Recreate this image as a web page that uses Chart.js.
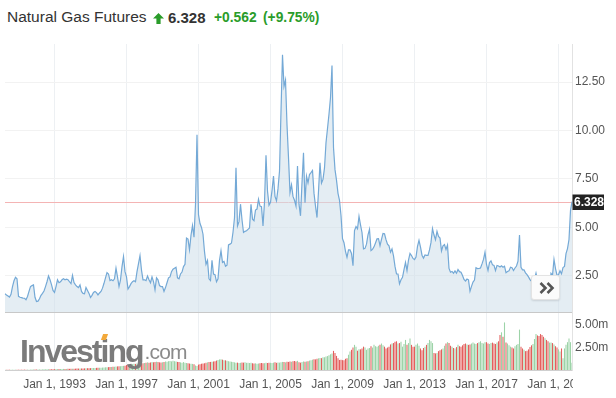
<!DOCTYPE html>
<html>
<head>
<meta charset="utf-8">
<script src="https://cdn.jsdelivr.net/npm/chart.js@4/dist/chart.umd.min.js"></script>
<style>
html,body{margin:0;padding:0;background:#fff;}
body{width:616px;height:398px;position:relative;overflow:hidden;font-family:"Liberation Sans",Arial,sans-serif;}
.abs{position:absolute;white-space:nowrap;line-height:1;}
#name{left:7px;top:9.2px;font-size:15.5px;color:#333;}
#last{left:168px;top:10px;font-size:15px;font-weight:bold;color:#333;}
#chg{left:214px;top:10.6px;font-size:13.8px;font-weight:bold;color:#2a9c2a;}
#pct{left:263px;top:10.6px;font-size:13.8px;font-weight:bold;color:#2a9c2a;}
#arrow{position:absolute;left:153px;top:12.5px;}
#cPrice{position:absolute;left:0;top:40px;}
#cVol{position:absolute;left:0;top:312px;}
#logo{position:absolute;left:20px;top:333px;font-size:32px;font-weight:bold;color:#7b7b7b;letter-spacing:-2px;line-height:normal;white-space:nowrap;}
#logo span{font-size:21px;font-weight:normal;color:#8a8a8a;letter-spacing:-0.8px;margin-left:2px;position:relative;top:-3px;}
#dot{position:absolute;left:102px;top:334px;width:5px;height:6px;background:#f3a93a;transform:skewX(-20deg);}
#more{position:absolute;left:531px;top:275px;width:29px;height:25px;background:#fbfbfb;border:1px solid #e3e3e3;border-radius:3px;box-shadow:0 1px 2px rgba(0,0,0,0.12);box-sizing:border-box;}
#more svg{position:absolute;left:7px;top:6px;}
</style>
</head>
<body>
<div class="abs" id="name">Natural Gas Futures</div>
<svg id="arrow" width="11" height="11" viewBox="0 0 11 11"><path d="M5.5 0 L11 5.5 L7.6 5.5 L7.6 11 L3.4 11 L3.4 5.5 L0 5.5 Z" fill="#2a9c2a"/></svg>
<div class="abs" id="last"></div>
<div class="abs" id="chg"></div>
<div class="abs" id="pct"></div>
<canvas id="cPrice" width="616" height="273"></canvas>
<canvas id="cVol" width="616" height="86"></canvas>
<div id="logo">Investing<span>.com</span></div>
<div id="dot"></div>
<div id="more"><svg width="16" height="12" viewBox="0 0 16 12"><path d="M1.5 1 L6.5 6 L1.5 11 M8.5 1 L13.5 6 L8.5 11" stroke="#555" stroke-width="2.6" fill="none"/></svg></div>
<script>
// ---- data ----
const startYear = 1990;
const startMonth = 4; // April 1990, monthly
const monthNames = ['Jan','Feb','Mar','Apr','May','Jun','Jul','Aug','Sep','Oct','Nov','Dec'];
const priceTicks = [2.5, 5, 7.5, 10, 12.5];
const volumeTicks = [2.5, 5];   // millions
const firstTickYear = 1993;
const tickEveryYears = 4;
const lastChange = 0.562;
const lastChangePct = 9.75;

const prices = [
  1.58,1.52,1.47,1.41,1.55,1.95,2.25,2.43,2.35,
  1.45,1.4,1.38,1.36,1.35,1.27,1.44,1.7,1.95,2.0,2.04,1.4,
  1.18,1.2,1.32,1.5,1.6,1.72,1.95,2.2,2.5,2.3,2.05,1.75,
  1.65,1.95,2.3,2.15,2.2,2.3,2.35,2.3,2.33,2.3,2.2,2.1,
  2.53,2.16,2.04,1.95,1.9,2.04,1.7,1.6,1.58,1.9,1.75,1.6,
  1.39,1.5,1.65,1.7,1.64,1.52,1.62,1.7,1.87,2.12,2.4,2.67,
  2.6,2.26,2.3,2.25,2.35,2.9,2.45,1.95,2.3,2.98,3.5,2.72,
  2.45,1.83,1.95,2.1,2.2,2.25,2.2,2.72,3.13,3.54,2.8,2.3,
  2.3,2.26,2.5,2.3,2.15,2.45,2.2,1.78,2.4,2.3,2.0,1.95,
  1.95,1.7,1.9,2.15,2.4,2.45,2.72,2.85,2.9,2.95,2.4,2.35,
  2.6,2.7,2.98,3.1,4.45,4.4,3.85,4.6,5.1,4.5,6.2,9.78,
  5.66,5.2,5.0,4.65,3.75,3.1,3.3,2.35,2.26,3.3,2.6,2.57,
  2.2,2.35,3.3,3.8,3.2,3.25,3.0,3.05,4.1,4.14,4.2,4.75,
  5.5,8.08,5.08,5.3,6.2,5.4,4.74,4.8,4.83,4.9,4.97,6.19,
  5.43,5.35,5.9,5.95,6.45,6.1,6.07,5.08,6.3,8.72,6.88,6.15,
  6.3,6.9,7.65,6.6,6.37,7.0,7.9,11.0,13.9,12.27,12.6,10.3,
  8.6,6.8,7.2,6.6,6.4,6.1,8.17,6.2,5.6,7.3,8.85,6.28,
  7.65,7.3,7.73,7.83,7.94,6.77,6.1,5.51,6.87,8.34,7.29,7.48,
  8.07,9.37,10.1,10.85,11.7,13.35,9.12,7.98,7.44,6.76,6.4,5.62,
  4.42,4.21,3.77,3.46,3.84,3.84,3.66,3.03,4.84,5.05,4.93,5.57,
  5.13,4.74,3.89,3.92,4.14,4.62,4.9,3.81,3.87,4.0,4.2,4.41,
  4.42,4.06,4.39,4.69,4.67,4.37,4.14,4.05,3.72,3.89,3.53,2.99,
  2.6,2.6,2.09,2.3,2.43,2.82,3.2,2.77,3.32,3.66,3.55,3.4,
  3.34,3.47,4.02,4.33,3.99,3.57,3.42,3.58,3.56,3.56,3.84,4.23,
  4.94,4.61,4.37,4.80,4.54,4.45,3.79,4.05,4.12,3.86,4.09,2.89,
  2.69,2.73,2.64,2.76,2.64,2.83,2.72,2.69,2.52,2.32,2.24,2.34,
  2.30,1.71,1.96,2.18,2.29,2.92,2.88,2.89,2.91,3.12,3.35,3.72,
  3.09,2.78,3.19,3.28,3.07,3.04,2.77,3.04,3.01,2.96,3.02,2.95,
  3.00,2.67,2.73,2.76,2.95,2.92,2.78,2.91,3.01,3.26,4.61,2.94,
  2.81,2.81,2.66,2.57,2.45,2.31,2.23,2.28,2.33,2.64,2.28,2.19,
  1.84,1.68,1.64,1.95,1.85,1.75,1.80,2.63,2.53,3.35,2.88,2.54,
  2.56,2.77,2.61,2.93,2.99,3.65,3.91,4.38,5.87,6.328
];

const volumes = [ // millions of contracts per month
  0.02,0.02,0.02,0.03,0.03,0.03,0.03,0.03,0.03,
  0.03,0.03,0.03,0.03,0.04,0.04,0.04,0.04,0.04,0.05,0.05,0.05,
  0.05,0.05,0.06,0.06,0.06,0.07,0.07,0.07,0.08,0.08,0.08,0.09,
  0.09,0.1,0.1,0.1,0.11,0.11,0.12,0.12,0.12,0.13,0.13,0.14,
  0.14,0.15,0.15,0.16,0.16,0.17,0.17,0.18,0.18,0.19,0.2,0.2,
  0.21,0.22,0.22,0.23,0.24,0.25,0.25,0.26,0.27,0.28,0.3,0.31,
  0.32,0.33,0.34,0.35,0.36,0.38,0.4,0.41,0.42,0.44,0.46,0.48,
  0.55,0.6,0.58,0.62,0.65,0.7,0.68,0.72,0.75,0.8,0.78,0.74,
  0.78,0.82,0.85,0.8,0.84,0.88,0.86,0.9,0.92,0.88,0.85,0.83,
  0.86,0.9,0.95,0.92,0.98,1.0,0.96,1.02,0.98,0.95,0.9,0.88,
  0.85,0.82,0.88,0.8,0.78,0.75,0.72,0.7,0.68,0.65,0.5,0.45,
  0.6,0.65,0.7,0.72,0.75,0.8,0.85,0.88,0.9,0.92,0.95,0.98,
  1.05,1.12,1.18,1.2,1.15,1.1,1.08,1.02,0.98,0.95,0.92,0.9,
  0.85,0.8,0.82,0.78,0.8,0.84,0.82,0.86,0.8,0.82,0.78,0.8,
  0.75,0.72,0.74,0.7,0.72,0.75,0.78,0.74,0.76,0.8,0.78,0.82,
  0.8,0.78,0.82,0.85,0.8,0.84,0.82,0.86,0.9,0.88,0.85,0.92,
  0.9,0.95,0.92,0.98,1.0,0.96,1.02,0.85,0.82,0.9,0.95,0.92,
  0.95,0.98,1.05,1.1,1.15,1.2,1.18,1.25,1.3,1.35,1.32,1.42,
  1.42,1.5,1.55,1.65,1.75,1.85,2.13,1.9,1.57,1.3,1.12,1.15,
  1.1,1.1,1.25,1.3,1.7,2.05,2.25,2.5,2.8,2.6,2.15,2.3,
  2.3,2.4,2.6,2.5,2.25,2.4,2.45,2.65,2.5,2.8,2.65,2.6,
  2.7,2.8,2.95,2.75,2.6,2.4,2.5,2.6,2.85,2.95,3.0,3.15,
  3.2,2.95,3.0,3.15,2.6,2.9,3.35,2.8,3.0,3.5,2.8,2.6,
  2.6,2.8,2.95,2.7,2.4,2.2,2.45,2.6,2.8,3.0,3.35,3.2,
  3.0,1.9,1.85,1.9,2.1,2.2,2.3,2.4,2.7,2.95,3.1,3.0,
  2.7,2.6,2.45,2.4,2.55,2.8,2.65,2.6,2.75,2.9,2.95,2.85,
  2.8,2.85,2.95,3.05,2.95,2.9,3.0,3.1,3.2,3.0,2.95,3.1,
  3.1,2.95,2.9,3.0,3.05,2.95,2.9,3.05,3.2,3.9,4.2,3.7,
  5.3,3.05,2.95,2.75,2.6,2.5,2.4,2.65,2.8,2.9,4.5,2.6,
  2.4,2.25,2.1,2.15,2.3,2.55,2.75,2.9,3.45,4.0,3.85,3.8,
  4.0,3.9,3.7,3.55,3.35,3.2,3.05,3.05,3.0,2.85,2.65,2.5,
  2.3,2.05,2.4,1.3,2.4,2.8,3.1,3.5,3.1,0.8
];

// ---- derived ----
const labels = prices.map((_, i) => {
  const m = startMonth - 1 + i;
  return monthNames[m % 12] + ' 1, ' + (startYear + Math.floor(m / 12));
});
function isTickIndex(i) {
  const m = startMonth - 1 + i;
  const y = startYear + Math.floor(m / 12);
  return (m % 12) === 0 && y >= firstTickYear && (y - firstTickYear) % tickEveryYears === 0;
}
const lastPrice = prices[prices.length - 1];
const volColors = volumes.map((_, i) => (i === 0 || prices[i] >= prices[i - 1]) ? '#9dd3a8' : '#e35f5d');

document.getElementById('last').textContent = lastPrice.toFixed(3);
document.getElementById('chg').textContent = '+' + lastChange.toFixed(3);
document.getElementById('pct').textContent = '(+' + lastChangePct.toFixed(2) + '%)';

const FONT = '"Liberation Sans", Arial, sans-serif';
Chart.defaults.font.family = FONT;

const filterX = s => { s.ticks = s.ticks.filter(t => isTickIndex(t.value)); };
const fitRight = s => { s.width = 44; s.paddingTop = 0; s.paddingBottom = 0; };

const lastPricePlugin = {
  id: 'lastPrice',
  beforeDatasetsDraw(chart) {
    const {ctx, chartArea: a, scales: {y}} = chart;
    const py = Math.round(y.getPixelForValue(lastPrice)) + 0.5;
    ctx.save();
    ctx.strokeStyle = '#f4b4b4';
    ctx.lineWidth = 1;
    ctx.beginPath(); ctx.moveTo(a.left, py); ctx.lineTo(a.right, py); ctx.stroke();
    ctx.restore();
  },
  afterDraw(chart) {
    const {ctx, chartArea: a, scales: {y}} = chart;
    const py = Math.round(y.getPixelForValue(lastPrice));
    ctx.save();
    ctx.fillStyle = '#222';
    ctx.fillRect(a.right + 0.5, py - 7.5, 31.5, 15.5);
    ctx.fillStyle = '#fff';
    ctx.font = 'bold 12px ' + FONT;
    ctx.textBaseline = 'middle';
    ctx.fillText(lastPrice.toFixed(3), a.right + 2, py + 0.5);
    ctx.restore();
  }
};

const clipRightLabels = {
  id: 'clipRight',
  afterDraw(chart) {
    const {ctx, chartArea: a, width, height} = chart;
    ctx.save();
    ctx.fillStyle = '#fff';
    ctx.fillRect(a.right + 1, a.bottom + 2, width - a.right - 1, height - a.bottom - 2);
    ctx.restore();
  }
};

new Chart(document.getElementById('cPrice'), {
  type: 'line',
  data: {
    labels,
    datasets: [{
      data: prices,
      borderColor: '#74a9d6',
      borderWidth: 1.2,
      backgroundColor: 'rgba(206,222,234,0.55)',
      fill: 'start',
      pointRadius: 0,
      tension: 0
    }]
  },
  options: {
    responsive: false, animation: false, devicePixelRatio: 1,
    layout: {padding: {left: 5, top: 4, right: 0, bottom: 1}},
    plugins: {legend: {display: false}, tooltip: {enabled: false}},
    scales: {
      x: {
        afterBuildTicks: filterX,
        ticks: {display: false, autoSkip: false},
        grid: {color: '#edf0f3', drawTicks: false},
        border: {color: '#c8c8c8'}
      },
      y: {
        position: 'right', min: 0.64, max: 14.46,
        afterBuildTicks: s => { s.ticks = priceTicks.map(v => ({value: v})); },
        afterFit: fitRight,
        ticks: {callback: v => v.toFixed(2), color: '#555', font: {size: 12}, padding: 3},
        grid: {color: '#f2f2f2', drawTicks: false},
        border: {color: '#e2e2e2'}
      }
    }
  },
  plugins: [lastPricePlugin]
});

new Chart(document.getElementById('cVol'), {
  type: 'bar',
  data: {
    labels,
    datasets: [{
      data: volumes,
      backgroundColor: volColors,
      borderWidth: 0,
      barPercentage: 0.72,
      categoryPercentage: 1
    }]
  },
  options: {
    responsive: false, animation: false, devicePixelRatio: 1,
    layout: {padding: {left: 5, top: 1, right: 0, bottom: 0}},
    plugins: {legend: {display: false}, tooltip: {enabled: false}},
    scales: {
      x: {
        offset: false,
        afterBuildTicks: filterX,
        afterFit: s => { s.height = 28; },
        ticks: {autoSkip: false, maxRotation: 0, minRotation: 0, color: '#555', font: {size: 12}, padding: 7},
        grid: {color: '#edf0f3', drawTicks: false, offset: false},
        border: {color: '#cfcfcf'}
      },
      y: {
        position: 'right', min: 0, max: 6.35,
        afterBuildTicks: s => { s.ticks = volumeTicks.map(v => ({value: v})); },
        afterFit: fitRight,
        ticks: {callback: v => v.toFixed(2) + 'm', color: '#555', font: {size: 12}, padding: 3},
        grid: {display: false, drawTicks: false},
        border: {color: '#e2e2e2'}
      }
    }
  },
  plugins: [clipRightLabels]
});
</script>
</body>
</html>
